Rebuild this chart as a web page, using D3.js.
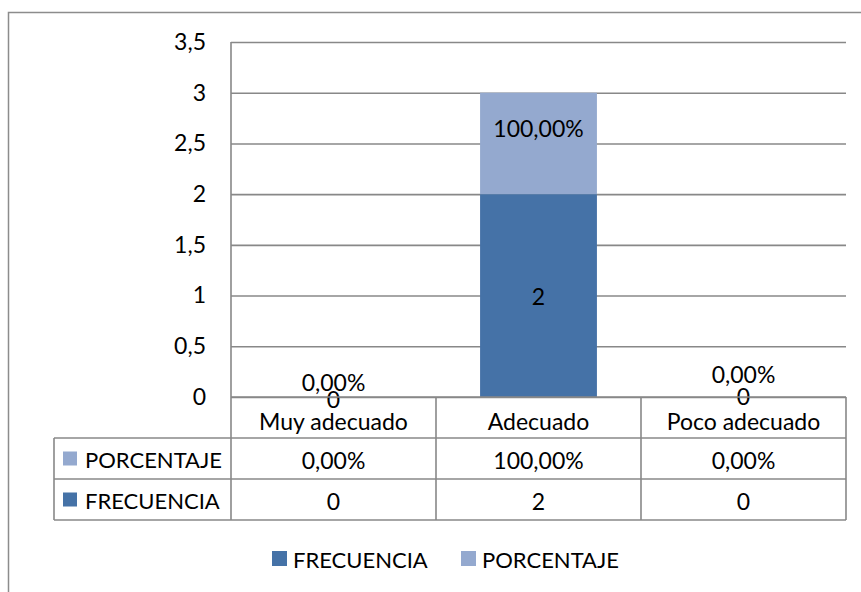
<!DOCTYPE html>
<html><head><meta charset="utf-8">
<script src="https://cdn.jsdelivr.net/npm/d3@7"></script>
<style>
html,body{margin:0;padding:0;background:#fff;}
svg{display:block;font-family:Lato, "Open Sans", sans-serif;}
</style></head>
<body>
<svg id="chart" width="861" height="592"></svg>
<script>
// ---- data ----
const categories = ["Muy adecuado", "Adecuado", "Poco adecuado"];
const frecuencia = [0, 2, 0];
const porcentaje = [0, 1, 0];          // 1 = 100,00%
const seriesNames = ["FRECUENCIA", "PORCENTAJE"];
const yTicks = [0, 0.5, 1, 1.5, 2, 2.5, 3, 3.5];

// ---- styles ----
const colors = {FRECUENCIA: "#4572a7", PORCENTAJE: "#94a9cf"};
const gridColor = "#888888";
const fontSize = 23;
const legendFontSize = 22;

const loc = d3.formatLocale({decimal: ",", thousands: ".", grouping: [3], currency: ["", "€"]});
const fmtTick = v => loc.format("~g")(v);
const fmtPct = v => loc.format(".2f")(v * 100) + "%";

const svg = d3.select("#chart");

// outer chart border
svg.append("rect").attr("x", 8.5).attr("y", 12.5).attr("width", 870).attr("height", 640)
  .attr("fill", "none").attr("stroke", "#8c8c8c").attr("stroke-width", 1.5);

const plot = {left: 231, right: 846, top: 42, bottom: 397};
const x = d3.scaleBand().domain(categories).range([plot.left, plot.right])
  .paddingInner(0.43).paddingOuter(0.215);
const xCol = d3.scaleBand().domain(categories).range([plot.left, plot.right]);
const y = d3.scaleLinear().domain([0, 3.5]).range([plot.bottom, plot.top]);

// gridlines
const gAxis = svg.append("g").attr("transform", `translate(${plot.left},0)`)
  .call(d3.axisLeft(y).tickValues(yTicks).tickSize(-(plot.right - plot.left)).tickFormat(fmtTick).tickPadding(25));
gAxis.select(".domain").remove();
gAxis.selectAll(".tick line").attr("stroke", gridColor).attr("stroke-width", 1.6);
gAxis.selectAll(".tick text").attr("fill", "#000").style("font-size", fontSize + "px")
  .style("font-family", "Lato, sans-serif");

// stacked bars
const rows = categories.map((c, i) => ({cat: c, FRECUENCIA: frecuencia[i], PORCENTAJE: porcentaje[i]}));
const stacked = d3.stack().keys(seriesNames)(rows);

svg.append("g").selectAll("g").data(stacked).join("g")
  .attr("fill", s => colors[s.key])
  .selectAll("rect").data(s => s).join("rect")
  .attr("x", d => x(d.data.cat))
  .attr("width", x.bandwidth())
  .attr("y", d => y(d[1]))
  .attr("height", d => y(d[0]) - y(d[1]));

// vertical axis line
svg.append("line").attr("x1", plot.left).attr("x2", plot.left).attr("y1", plot.top).attr("y2", 520)
  .attr("stroke", gridColor).attr("stroke-width", 1.6);

// data labels (nudges reproduce the label placement of the original)
const labelNudge = {
  FRECUENCIA: [2, 0, -1],
  PORCENTAJE: [-15, -15, -23]
};
stacked.forEach(s => {
  svg.append("g").selectAll("text").data(s).join("text")
    .attr("x", d => x(d.data.cat) + x.bandwidth() / 2)
    .attr("y", (d, i) => y((d[0] + d[1]) / 2) + labelNudge[s.key][i])
    .attr("text-anchor", "middle").attr("dominant-baseline", "central")
    .style("font-size", fontSize + "px").attr("fill", "#000")
    .text(d => s.key === "PORCENTAJE" ? fmtPct(d.data[s.key]) : d.data[s.key]);
});

// data table
const tbl = {top: 397, r1: 438, r2: 479, bottom: 520, legLeft: 54};
const tg = svg.append("g").attr("stroke", gridColor).attr("stroke-width", 1.6).attr("fill", "none");
tg.append("line").attr("x1", plot.left).attr("x2", plot.right).attr("y1", tbl.top).attr("y2", tbl.top);
[tbl.r1, tbl.r2, tbl.bottom].forEach(yy =>
  tg.append("line").attr("x1", tbl.legLeft).attr("x2", plot.right).attr("y1", yy).attr("y2", yy));
tg.append("line").attr("x1", tbl.legLeft).attr("x2", tbl.legLeft).attr("y1", tbl.r1).attr("y2", tbl.bottom);
categories.forEach(c => {
  const xr = xCol(c) + xCol.bandwidth();
  tg.append("line").attr("x1", xr).attr("x2", xr).attr("y1", tbl.top).attr("y2", tbl.bottom);
});

// category row
svg.append("g").selectAll("text").data(categories).join("text")
  .attr("x", c => xCol(c) + xCol.bandwidth() / 2).attr("y", (tbl.top + tbl.r1) / 2 + 3)
  .attr("text-anchor", "middle").attr("dominant-baseline", "central")
  .style("font-size", fontSize + "px").text(c => c);

// series rows
const tableRows = [
  {key: "PORCENTAJE", values: porcentaje.map(fmtPct), y0: tbl.r1, y1: tbl.r2},
  {key: "FRECUENCIA", values: frecuencia.map(String), y0: tbl.r2, y1: tbl.bottom}
];
tableRows.forEach(r => {
  const cy = (r.y0 + r.y1) / 2;
  svg.append("rect").attr("x", 63).attr("y", cy - 7).attr("width", 14).attr("height", 14).attr("fill", colors[r.key]);
  svg.append("text").attr("x", 85).attr("y", cy + 1).attr("dominant-baseline", "central")
    .style("font-size", legendFontSize + "px").text(r.key);
  svg.append("g").selectAll("text").data(r.values).join("text")
    .attr("x", (v, i) => xCol(categories[i]) + xCol.bandwidth() / 2).attr("y", cy + 1)
    .attr("text-anchor", "middle").attr("dominant-baseline", "central")
    .style("font-size", fontSize + "px").text(v => v);
});

// bottom legend
const legX = [272, 461];
seriesNames.forEach((n, i) => {
  svg.append("rect").attr("x", legX[i]).attr("y", 551).attr("width", 15).attr("height", 15).attr("fill", colors[n]);
  svg.append("text").attr("x", legX[i] + 21).attr("y", 559).attr("dominant-baseline", "central")
    .style("font-size", legendFontSize + "px").text(n);
});
</script>
</body></html>
